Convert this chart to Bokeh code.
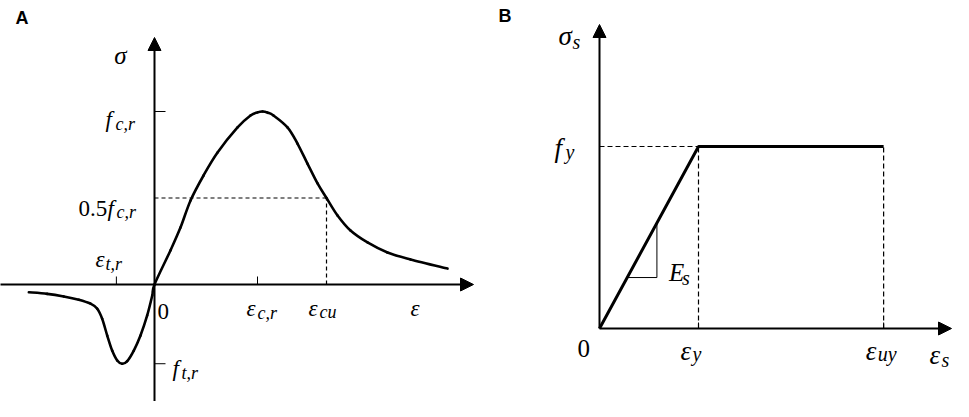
from bokeh.plotting import figure
from bokeh.layouts import row
from bokeh.models import Arrow, NormalHead
from bokeh.core.properties import value
from bokeh.embed import file_html
from bokeh.resources import INLINE

# ---------------- Panel A: concrete (normalised strain / stress) ----------------
strain_a = [-1.22, -1.042, -0.881, -0.735, -0.621, -0.556, -0.508, -0.459, -0.411,
            -0.362, -0.314, -0.265, -0.201, -0.136, -0.071, -0.022, 0.0,
            0.155, 0.252, 0.35, 0.476, 0.612, 0.806, 0.932, 1.0, 1.049, 1.10, 1.155,
            1.291, 1.388, 1.485, 1.583, 1.67, 1.777, 1.903, 2.068, 2.262, 2.485, 2.845]
stress_a = [-0.045, -0.054, -0.069, -0.088, -0.111, -0.140, -0.198, -0.295, -0.382,
            -0.439, -0.458, -0.443, -0.382, -0.295, -0.179, -0.064, 0.0,
            0.197, 0.329, 0.486, 0.630, 0.763, 0.908, 0.977, 0.995, 1.0, 0.993, 0.977,
            0.908, 0.815, 0.699, 0.584, 0.5, 0.399, 0.312, 0.243, 0.185, 0.145, 0.092]
eps_tr = -0.37
eps_cr = 1.0
eps_cu = 1.67
f_cr = 1.0
f_half = 0.5
f_tr = -0.458

# ---------------- Panel B: steel (bilinear) ----------------
eps_y = 1.0
eps_uy = 2.87
f_y = 1.0
strain_b = [0.0, eps_y, eps_uy]
stress_b = [0.0, f_y, f_y]
slope_tri_eps = [0.28, 0.58]

# ---------------- layout (pixels) ----------------
H = 401
WA, WB = 482, 471
OXA, OYA, SXA, SYA = 154, 284, 103.0, 173.0        # origin of A inside its canvas, px per unit
OXB, OYB, SXB, SYB = 599 - WA, 328, 99.0, 182.0

SERIF = value("Liberation Serif")
SANS = value("Liberation Sans")


def make_fig(w, ox, oy, sx, sy):
    p = figure(width=w, height=H,
               x_range=(-ox / sx, (w - ox) / sx),
               y_range=(-(H - oy) / sy, oy / sy),
               output_backend="svg", toolbar_location=None,
               x_axis_location=None, y_axis_location=None,
               min_border=0, outline_line_color=None,
               background_fill_color="white", border_fill_color="white")
    p.grid.visible = False
    return p


def txt(p, sx, sy, x, y, dx, dy, s, size, style="italic", font=SERIF, align="left"):
    p.text(x=[x + dx / sx], y=[y - dy / sy], text=[s], text_font=font,
           text_font_size=f"{size}px", text_font_style=style, text_color="black",
           text_align=align, text_baseline="alphabetic")


def arrow(p, x0, y0, x1, y1):
    p.add_layout(Arrow(end=NormalHead(size=13, fill_color="black", line_color="black", line_width=1),
                       x_start=x0, y_start=y0, x_end=x1, y_end=y1,
                       line_width=2, line_color="black"))


def smooth_curve(p, xs, ys, **kw):
    # smooth curve through the read points (Catmull-Rom as cubic Bezier pieces)
    n = len(xs)
    x0, y0, x1, y1, cx0, cy0, cx1, cy1 = ([] for _ in range(8))
    for i in range(n - 1):
        a = max(i - 1, 0)
        d = min(i + 2, n - 1)
        x0.append(xs[i]); y0.append(ys[i]); x1.append(xs[i + 1]); y1.append(ys[i + 1])
        cx0.append(xs[i] + (xs[i + 1] - xs[a]) / 6); cy0.append(ys[i] + (ys[i + 1] - ys[a]) / 6)
        cx1.append(xs[i + 1] - (xs[d] - xs[i]) / 6); cy1.append(ys[i + 1] - (ys[d] - ys[i]) / 6)
    p.bezier(x0=x0, y0=y0, x1=x1, y1=y1, cx0=cx0, cy0=cy0, cx1=cx1, cy1=cy1,
             line_cap="round", **kw)


# ================= Panel A =================
pA = make_fig(WA, OXA, OYA, SXA, SYA)
xa_tip = (473 - OXA) / SXA
ya_tip = (OYA - 37) / SYA
arrow(pA, -OXA / SXA - 0.2, 0, xa_tip, 0)
arrow(pA, 0, -(H - OYA) / SYA - 0.2, 0, ya_tip)

# ticks
pA.segment(x0=[eps_tr, eps_cr], y0=[0, 0], x1=[eps_tr, eps_cr], y1=[8 / SYA] * 2,
           line_color="black", line_width=1)
pA.segment(x0=[0, 0], y0=[f_cr, f_tr], x1=[11 / SXA] * 2, y1=[f_cr, f_tr],
           line_color="black", line_width=1)
# dashed guides
pA.segment(x0=[0, eps_cu], y0=[f_half, 0], x1=[eps_cu, eps_cu], y1=[f_half, f_half],
           line_color="black", line_width=1.2, line_dash="4 3")
# curve
smooth_curve(pA, strain_a, stress_a, line_color="black", line_width=2.6)

# labels A
t = lambda *a, **k: txt(pA, SXA, SYA, *a, **k)
t(0, ya_tip, -34, 18, "σ", 25, align="center")
t(0, f_cr, -49, 8, "f", 23)
t(0, f_cr, -39, 12, "c,r", 18)
t(0, f_half, -76, 10.5, "0.5", 23, style="normal")
t(0, f_half, -47, 10.5, "f", 23)
t(0, f_half, -38, 13.5, "c,r", 18)
t(eps_tr, 0, -21, -25, "ε", 23)
t(eps_tr, 0, -11, -21, "t,r", 18)
t(0, 0, 3, 27, "0", 23, style="normal")
t(eps_cr, 0, -11, 24, "ε", 23)
t(eps_cr, 0, 0, 28, "c,r", 18)
t(eps_cu, 0, -18, 24, "ε", 23)
t(eps_cu, 0, -7, 27, "cu", 18)
t(xa_tip, 0, -63, 24, "ε", 23)
t(0, f_tr, 18, 5, "f", 23)
t(0, f_tr, 27, 9, "t,r", 18)
t(-OXA / SXA, OYA / SYA, 15, 17, "A", 18, style="bold", font=SANS)

# ================= Panel B =================
pB = make_fig(WB, OXB, OYB, SXB, SYB)
xb_tip = (WB - 2 - OXB) / SXB
yb_tip = (OYB - 24) / SYB
arrow(pB, 0, 0, xb_tip, 0)
arrow(pB, 0, 0, 0, yb_tip)

pB.segment(x0=[eps_y, eps_uy], y0=[0, 0], x1=[eps_y, eps_uy], y1=[6 / SYB] * 2,
           line_color="black", line_width=1)
pB.segment(x0=[0, eps_y, eps_uy], y0=[f_y, 0, 0], x1=[eps_y, eps_y, eps_uy], y1=[f_y, f_y, f_y],
           line_color="black", line_width=1.2, line_dash="5 3")
# slope triangle
e0, e1 = slope_tri_eps
pB.line([e0, e1, e1], [e0, e0, e1], line_color="black", line_width=1)
pB.line(strain_b, stress_b, line_color="black", line_width=3)

u = lambda *a, **k: txt(pB, SXB, SYB, *a, **k)
u(0, yb_tip, -41, 11, "σ", 27)
u(0, yb_tip, -27, 17, "s", 20)
u(0, f_y, -45, 1, "f", 27)
u(0, f_y, -34, 5, "y", 20)
u(e1, e0, 12, -5, "E", 25)
u(e1, e0, 25, 0, "s", 20)
u(0, 0, -22, 20, "0", 25, style="normal")
u(eps_y, 0, -18, 22, "ε", 27)
u(eps_y, 0, -6, 25, "y", 20)
u(eps_uy, 0, -18, 22, "ε", 27)
u(eps_uy, 0, -6, 25, "uy", 20)
u(xb_tip, 0, -22, 26, "ε", 27)
u(xb_tip, 0, -10, 31, "s", 20)
u(-OXB / SXB, OYB / SYB, 16, 15, "B", 18, style="bold", font=SANS)

layout = row(pA, pB)
open("out.html", "w").write(file_html(layout, INLINE))
